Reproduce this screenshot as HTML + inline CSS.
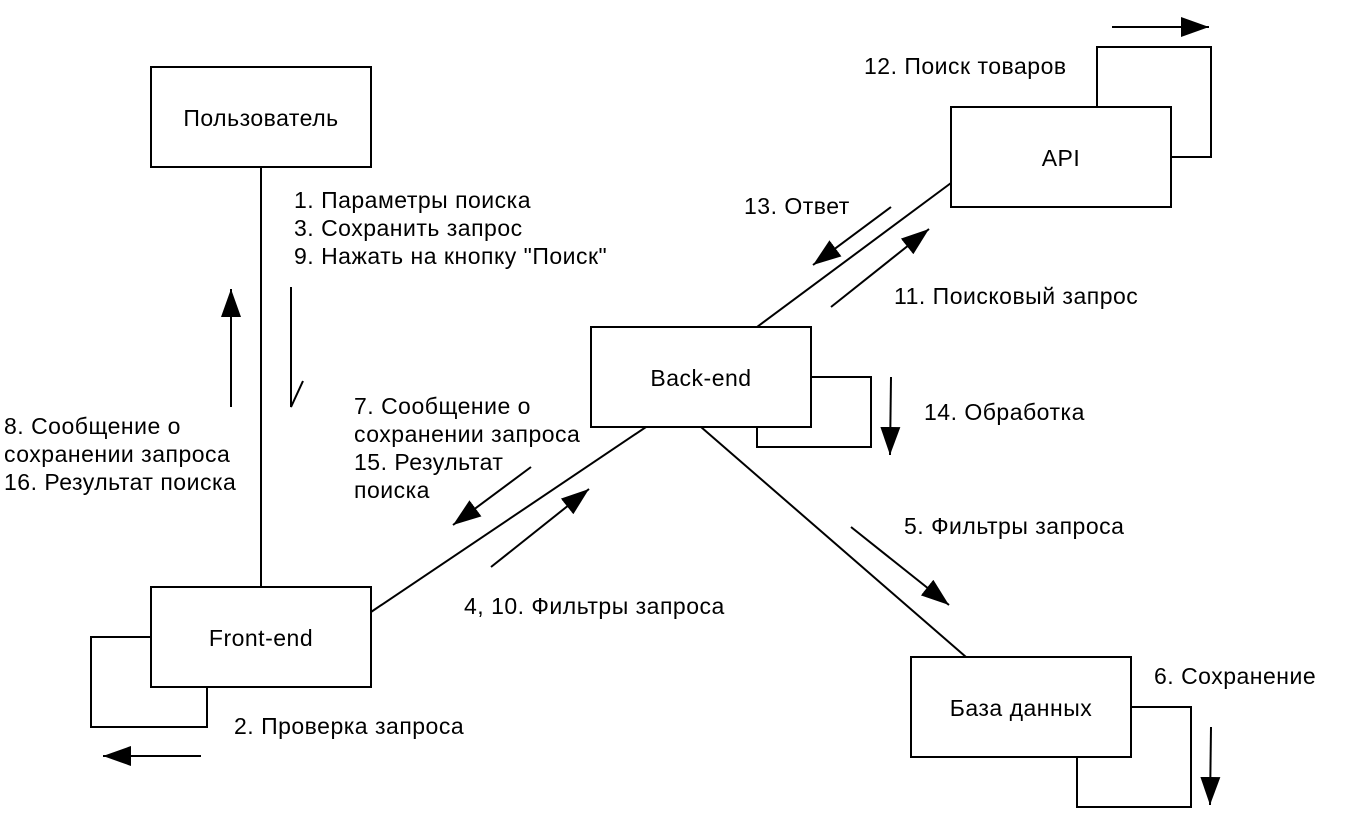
<!DOCTYPE html>
<html><head><meta charset="utf-8"><style>
html,body{margin:0;padding:0;background:#fff;}
svg{display:block;}
text{font-family:"Liberation Sans","DejaVu Sans",sans-serif;font-size:23px;letter-spacing:0.5px;fill:#000;}
</style></head><body>
<svg width="1352" height="836" viewBox="0 0 1352 836" xmlns="http://www.w3.org/2000/svg">
<defs>
<marker id="a" markerUnits="userSpaceOnUse" markerWidth="30" markerHeight="22" refX="28" refY="11" orient="auto">
<path d="M0,1 L28,11 L0,21 Z" fill="#000"/>
</marker>
</defs>
<g fill="none" stroke="#000" stroke-width="2">
<line x1="261" y1="167" x2="261" y2="587"/>
<line x1="371" y1="612" x2="646" y2="427"/>
<line x1="757" y1="327" x2="951" y2="183"/>
<line x1="701" y1="427" x2="966" y2="657"/>
<polyline points="151,637 91,637 91,727 207,727 207,687"/>
<polyline points="811,377 871,377 871,447 757,447 757,427"/>
<polyline points="1097,107 1097,47 1211,47 1211,157 1171,157"/>
<polyline points="1131,707 1191,707 1191,807 1077,807 1077,757"/>
<rect x="151" y="67" width="220" height="100" fill="#fff"/>
<rect x="151" y="587" width="220" height="100" fill="#fff"/>
<rect x="591" y="327" width="220" height="100" fill="#fff"/>
<rect x="951" y="107" width="220" height="100" fill="#fff"/>
<rect x="911" y="657" width="220" height="100" fill="#fff"/>
<polyline points="291,287 291,407 303,381"/>
</g>
<g stroke="#000" stroke-width="2" marker-end="url(#a)">
<line x1="231" y1="407" x2="231" y2="289"/>
<line x1="531" y1="467" x2="453" y2="525"/>
<line x1="491" y1="567" x2="589" y2="489"/>
<line x1="891" y1="207" x2="813" y2="265"/>
<line x1="831" y1="307" x2="929" y2="229"/>
<line x1="891" y1="377" x2="890" y2="455"/>
<line x1="851" y1="527" x2="949" y2="605"/>
<line x1="1211" y1="727" x2="1210" y2="805"/>
<line x1="201" y1="756" x2="103" y2="756"/>
<line x1="1112" y1="27" x2="1209" y2="27"/>
</g>
<g text-anchor="middle">
<text x="261" y="126">Пользователь</text>
<text x="261" y="646">Front-end</text>
<text x="701" y="386">Back-end</text>
<text x="1061" y="166">API</text>
<text x="1021" y="716">База данных</text>
</g>
<text x="294" y="208">1. Параметры поиска</text>
<text x="294" y="236">3. Сохранить запрос</text>
<text x="294" y="264">9. Нажать на кнопку "Поиск"</text>
<text x="4" y="434">8. Сообщение о</text>
<text x="4" y="462">сохранении запроса</text>
<text x="4" y="490">16. Результат поиска</text>
<text x="354" y="414">7. Сообщение о</text>
<text x="354" y="442">сохранении запроса</text>
<text x="354" y="470">15. Результат</text>
<text x="354" y="498">поиска</text>
<text x="464" y="614">4, 10. Фильтры запроса</text>
<text x="234" y="734">2. Проверка запроса</text>
<text x="864" y="74">12. Поиск товаров</text>
<text x="744" y="214">13. Ответ</text>
<text x="894" y="304">11. Поисковый запрос</text>
<text x="924" y="420">14. Обработка</text>
<text x="904" y="534">5. Фильтры запроса</text>
<text x="1154" y="684">6. Сохранение</text>
</svg>
</body></html>
